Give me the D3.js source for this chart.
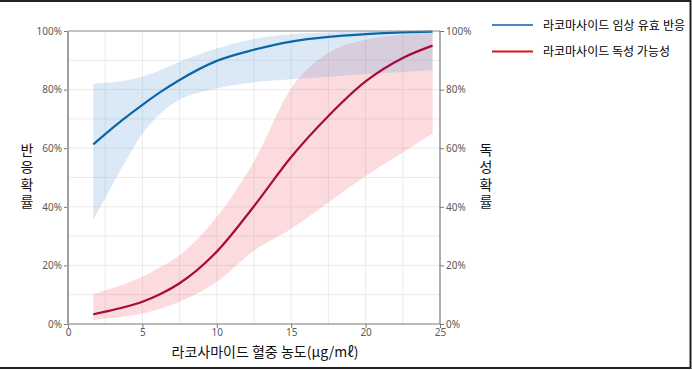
<!DOCTYPE html>
<html>
<head>
<meta charset="utf-8">
<script src="https://cdn.jsdelivr.net/npm/d3@7"></script>
<style>
	body { margin: 0; background: #fff; }
	svg { display: block; }
</style>
</head>
<body>
<div id="chart"></div>
<script>
// concentration points (x)
const conc = [1.7, 2.5, 3.75, 5, 6.25, 7.5, 10, 12.5, 15, 17.5, 20, 22.5, 24.5]

// clinical response probability (%) and its band
const respMid = [61.3, 64.8, 70.0, 74.8, 79.3, 83.3, 89.8, 93.6, 96.4, 98.0, 98.9, 99.5, 99.8]
const respHi  = [82.0, 82.3, 83.0, 84.4, 86.8, 89.5, 94.0, 97.3, 98.9, 99.5, 99.8, 99.9, 100]
const respLo  = [35.5, 43.0, 54.5, 65.0, 72.0, 76.5, 80.4, 82.5, 83.5, 84.4, 85.3, 86.0, 86.7]

// toxicity probability (%) and its band
const toxMid = [3.3, 4.2, 5.7, 7.6, 10.3, 13.9, 24.7, 40.2, 57.0, 71.0, 82.8, 90.8, 95.0]
const toxHi  = [10.2, 11.5, 13.5, 16.1, 19.5, 23.5, 36.6, 55.5, 80.5, 92.5, 97.0, 98.7, 99.2]
const toxLo  = [1.4, 1.8, 2.6, 3.6, 5.3, 7.6, 14.4, 25.0, 32.5, 41.5, 50.5, 58.5, 65.0]

const xTicks = [0, 5, 10, 15, 20, 25]
const yTicks = [0, 20, 40, 60, 80, 100]

const seriesNames = ['라코마사이드 임상 유효 반응', '라코마사이드 독성 가능성']
const xTitle = '라코사마이드 혈중 농도(μg/mℓ)'
const yTitleLeft = '반응 확률'
const yTitleRight = '독성 확률'

const width = 692
const height = 370
const m = {left: 68, right: 440, top: 31, bottom: 324}

const svg = d3.select('#chart').append('svg')
	.attr('width', width)
	.attr('height', height)

const x = d3.scaleLinear().domain([0, 25]).range([m.left, m.right])
const y = d3.scaleLinear().domain([0, 100]).range([m.bottom, m.top])

//grid, every 2.5 on x and 10% on y
const gridG = svg.append('g').attr('stroke', '#ebebeb').attr('stroke-width', 1)
d3.range(2.5, 25, 2.5).forEach(function(v) {
	gridG.append('line')
		.attr('x1', x(v)).attr('x2', x(v))
		.attr('y1', m.top).attr('y2', m.bottom)
})
d3.range(10, 100, 10).forEach(function(v) {
	gridG.append('line')
		.attr('x1', m.left).attr('x2', m.right)
		.attr('y1', y(v)).attr('y2', y(v))
})

function pts(lo, hi) {
	return conc.map(function(c, i) { return {x: c, lo: lo[i], hi: hi[i]} })
}
const area = d3.area()
	.curve(d3.curveMonotoneX)
	.x(function(d) { return x(d.x) })
	.y0(function(d) { return y(d.lo) })
	.y1(function(d) { return y(d.hi) })
const line = d3.line()
	.curve(d3.curveMonotoneX)
	.x(function(d) { return x(d.x) })
	.y(function(d) { return y(d.lo) })

svg.append('path')
	.attr('d', area(pts(toxLo, toxHi)))
	.attr('fill', '#ef5a62')
	.attr('fill-opacity', 0.22)
svg.append('path')
	.attr('d', area(pts(respLo, respHi)))
	.attr('fill', '#5b9ad9')
	.attr('fill-opacity', 0.22)

svg.append('path')
	.attr('d', line(pts(respMid, respMid)))
	.attr('fill', 'none')
	.attr('stroke', '#0b67a8')
	.attr('stroke-width', 2.2)
svg.append('path')
	.attr('d', line(pts(toxMid, toxMid)))
	.attr('fill', 'none')
	.attr('stroke', '#a80a3a')
	.attr('stroke-width', 2.2)

//axes
const tickFont = function(g) {
	g.selectAll('text')
		.attr('fill', '#5a5a5a')
		.style('font-family', '"Noto Sans", sans-serif')
		.style('font-size', '10px')
	g.selectAll('line').attr('stroke', '#777')
	g.select('.domain').remove()
}
const pct = function(d) { return d + '%' }

svg.append('g')
	.attr('transform', `translate(${m.left},0)`)
	.call(d3.axisLeft(y).tickValues(yTicks).tickFormat(pct).tickSize(4).tickPadding(2))
	.call(tickFont)
svg.append('g')
	.attr('transform', `translate(${m.right},0)`)
	.call(d3.axisRight(y).tickValues(yTicks).tickFormat(pct).tickSize(4).tickPadding(2))
	.call(tickFont)
svg.append('g')
	.attr('transform', `translate(0,${m.bottom})`)
	.call(d3.axisBottom(x).tickValues(xTicks).tickSize(4).tickPadding(1))
	.call(tickFont)

//panel border
svg.append('line').attr('x1', m.left).attr('x2', m.right).attr('y1', m.top).attr('y2', m.top)
	.attr('stroke', '#888').attr('stroke-width', 1)
svg.append('line').attr('x1', m.left).attr('x2', m.right).attr('y1', m.bottom).attr('y2', m.bottom)
	.attr('stroke', '#777').attr('stroke-width', 1.2)
svg.append('line').attr('x1', m.right).attr('x2', m.right).attr('y1', m.top).attr('y2', m.bottom)
	.attr('stroke', '#777').attr('stroke-width', 1.2)
svg.append('line').attr('x1', m.left).attr('x2', m.left).attr('y1', m.top).attr('y2', m.bottom + 1)
	.attr('stroke', '#a0a0a0').attr('stroke-width', 2)

//titles
const kr = '"Noto Sans CJK KR", sans-serif'
svg.append('text')
	.attr('x', 265).attr('y', 357)
	.attr('text-anchor', 'middle')
	.style('font-family', kr).style('font-size', '14px')
	.attr('fill', '#111')
	.text(xTitle)

//vertical titles: one glyph per row, the space is dropped
function vTitle(cx, label) {
	svg.append('text')
		.attr('x', cx).attr('y', 177.5)
		.attr('text-anchor', 'middle')
		.style('writing-mode', 'vertical-rl')
		.style('text-orientation', 'upright')
		.style('letter-spacing', '3.5px')
		.style('font-family', kr).style('font-size', '14px')
		.attr('fill', '#111')
		.text(label.replace(/ /g, ''))
}
vTitle(27, yTitleLeft)
vTitle(486, yTitleRight)

//legend, spread the words to the reference width
const legColors = ['#4a86c0', '#d9141e']
const legWidths = [142, 127]
seriesNames.forEach(function(name, i) {
	const ly = 25 + i * 26.5
	svg.append('line')
		.attr('x1', 492).attr('x2', 533)
		.attr('y1', ly).attr('y2', ly)
		.attr('stroke', legColors[i]).attr('stroke-width', 2.2)
	const t = svg.append('text')
		.attr('x', 543).attr('y', ly + 4.5)
		.style('font-family', kr).style('font-size', '12px')
		.attr('fill', '#000')
		.text(name)
	const natural = t.node().getComputedTextLength()
	const gaps = name.split(' ').length - 1
	if (gaps > 0 && natural < legWidths[i]) {
		t.style('word-spacing', ((legWidths[i] - natural) / gaps) + 'px')
	}
})

//outer frame
svg.append('rect')
	.attr('x', -3).attr('y', 1)
	.attr('width', 693.5).attr('height', 367)
	.attr('fill', 'none')
	.attr('stroke', '#222').attr('stroke-width', 2)
</script>
</body>
</html>
